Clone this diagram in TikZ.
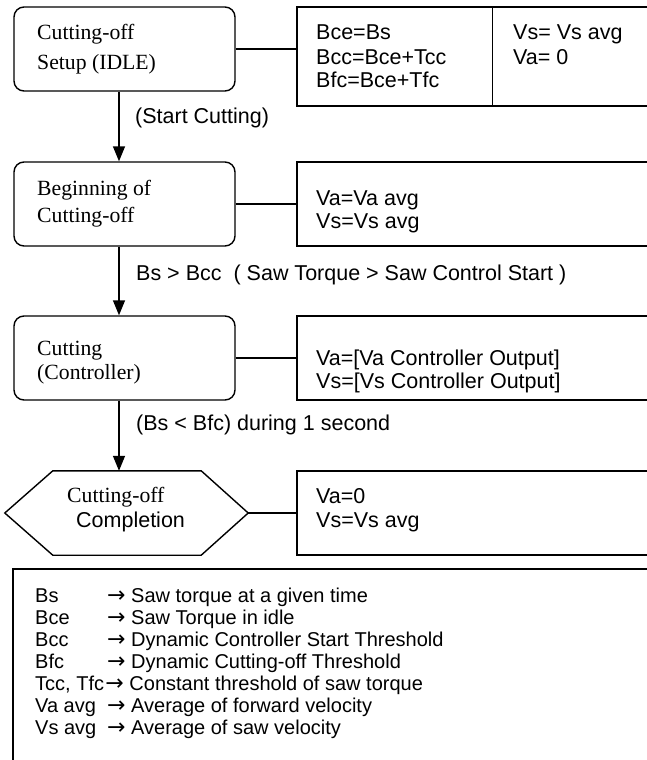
\documentclass[tikz,border=0pt]{standalone}
\usepackage{fontspec}
\setmainfont{Liberation Serif}
\setsansfont{Liberation Sans}
\newfontfamily\arrowfont{DejaVu Sans}
\usetikzlibrary{arrows.meta}
\newcommand{\legarrow}{{\arrowfont\fontsize{22}{22}\selectfont →}}
\begin{document}
\begin{tikzpicture}[x=1pt,y=-1pt,
  stbox/.style={draw, rounded corners=10pt, line width=1.4pt, minimum width=221pt, minimum height=84pt, inner sep=0pt},
  rbox/.style={draw, line width=1.3pt, inner sep=0pt},
  conn/.style={line width=1.4pt},
  flow/.style={line width=1.4pt, -{Triangle[width=12pt,length=15pt]}},
  sans/.style={inner sep=0pt, anchor=base west, font=\sffamily\fontsize{21.5}{24}\selectfont},
  serif/.style={inner sep=0pt, anchor=base west, font=\rmfamily\fontsize{21.7}{25}\selectfont},
  leg/.style={inner sep=0pt, anchor=base west, font=\sffamily\fontsize{20}{22}\selectfont}]
\useasboundingbox (0,0) rectangle (647,760);
\clip (0,0) rectangle (647,760);
\fill[white] (0,0) rectangle (647,760);

% state boxes
\node[stbox] (s1) at (124.5,49) {};
\node[stbox] (s2) at (124.5,204) {};
\node[stbox] (s3) at (124.5,358) {};
\node[inner sep=0pt, minimum width=243pt, minimum height=84pt] (hx) at (126.5,513) {};
\draw[conn] (hx.west) -- ([xshift=48pt]hx.north west) -- ([xshift=-47pt]hx.north east) -- (hx.east)
  -- ([xshift=-47pt]hx.south east) -- ([xshift=48pt]hx.south west) -- cycle;

% right boxes
\node[rbox, minimum width=353pt, minimum height=99pt] (r1) at (473.5,56.5) {};
\draw[rbox] ([xshift=196pt]r1.north west) -- ([xshift=196pt]r1.south west);
\node[rbox, minimum width=353pt, minimum height=84pt] (r2) at (473.5,204) {};
\node[rbox, minimum width=353pt, minimum height=84pt] (r3) at (473.5,358) {};
\node[rbox, minimum width=353pt, minimum height=84pt] (r4) at (473.5,513) {};
\node[rbox, minimum width=637pt, minimum height=201pt] (lg) at (331.5,669.5) {};

% connectors
\draw[conn] (s1.east) -- (r1.west |- s1.east);
\draw[conn] (s2.east) -- (r2.west);
\draw[conn] (s3.east) -- (r3.west);
\draw[conn] (hx.east) -- (r4.west);
\draw[flow] ([xshift=-5.5pt]s1.south) -- ([xshift=-5.5pt]s2.north);
\draw[flow] ([xshift=-5.5pt]s2.south) -- ([xshift=-5.5pt]s3.north);
\draw[flow] ([xshift=-5.5pt]s3.south) -- ([xshift=-7.5pt]hx.north);

% texts in state boxes
\node[serif] (t1a) at (37,40) {Cutting-off};
\node[serif] (t1b) at (37,70) {Setup (IDLE)};
\node[serif] (t2a) at (37,195) {Beginning of};
\node[serif] (t2b) at (37,222) {Cutting-off};
\node[serif] (t3a) at (37,355) {Cutting};
\node[serif] (t3b) at (37,379) {(Controller)};
\node[serif] (h1) at (67,502) {Cutting-off};
\node[sans] (h2) at (76,527) {Completion};

% texts in right boxes
\node[sans] (r1a) at (316,40) {Bce=Bs};
\node[sans] (r1b) at (316,64) {Bcc=Bce+Tcc};
\node[sans] (r1c) at (316,88) {Bfc=Bce+Tfc};
\node[sans] (r1d) at (513,40) {Vs= Vs avg};
\node[sans] (r1e) at (513,64) {Va= 0};
\node[sans] (r2a) at (316,205) {Va=Va avg};
\node[sans] (r2b) at (316,228) {Vs=Vs avg};
\node[sans] (r3a) at (316,365) {Va=[Va Controller Output]};
\node[sans] (r3b) at (316,388) {Vs=[Vs Controller Output]};
\node[sans] (r4a) at (316,503) {Va=0};
\node[sans] (r4b) at (316,527) {Vs=Vs avg};

% transition labels
\node[sans] (l1) at (135,123) {(Start Cutting)};
\node[sans] (l2) at (136,280) {Bs > Bcc\ \ ( Saw Torque > Saw Control Start )};
\node[sans] (l3) at (136,430) {(Bs < Bfc) during 1 second};

% legend
\node[leg] (k1) at (35,602) {Bs};
\node[leg] (k2) at (35,624) {Bce};
\node[leg] (k3) at (35,646) {Bcc};
\node[leg] (k4) at (35,668) {Bfc};
\node[leg] (k5) at (35,690) {Tcc, Tfc};
\node[leg] (k6) at (35,712) {Va avg};
\node[leg] (k7) at (35,734) {Vs avg};
\node[leg] (d1) at (107,602) {\legarrow{} Saw torque at a given time};
\node[leg] (d2) at (107,624) {\legarrow{} Saw Torque in idle};
\node[leg] (d3) at (107,646) {\legarrow{} Dynamic Controller Start Threshold};
\node[leg] (d4) at (107,668) {\legarrow{} Dynamic Cutting-off Threshold};
\node[leg] (d5) at ([xshift=1pt]k5.base east) {\legarrow{} Constant threshold of saw torque};
\node[leg] (d6) at (107,712) {\legarrow{} Average of forward velocity};
\node[leg] (d7) at (107,734) {\legarrow{} Average of saw velocity};
\end{tikzpicture}
\end{document}
